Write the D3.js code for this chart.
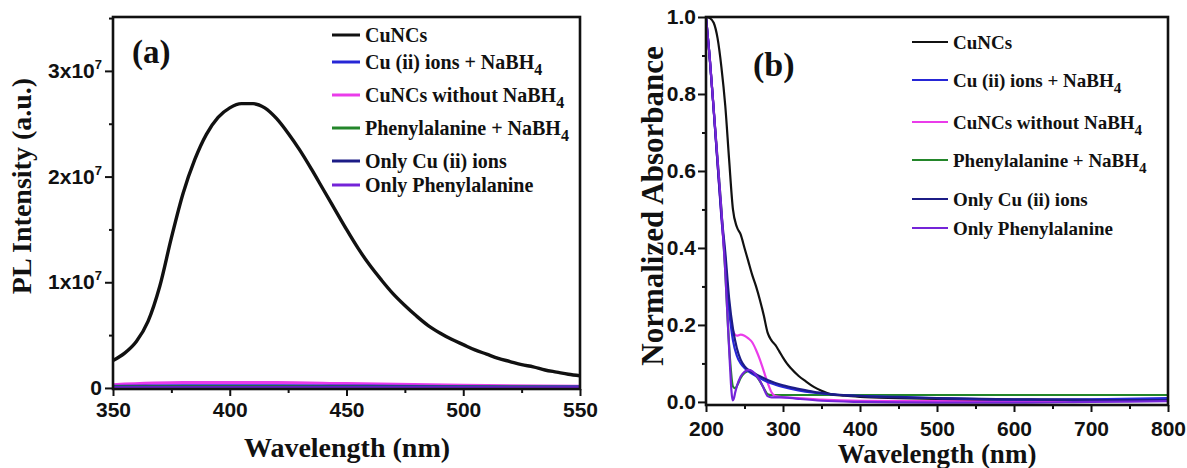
<!DOCTYPE html>
<html>
<head>
<meta charset="utf-8">
<script src="https://cdn.jsdelivr.net/npm/d3@7"></script>
<style>
  html, body { margin: 0; padding: 0; background: #fff; }
  svg { display: block; font-family: "Liberation Serif", "Times New Roman", serif; font-weight: bold; }
</style>
</head>
<body>
<svg id="fig" width="1187" height="468"></svg>
<script>
// ---------- Panel (a): PL emission (intensity in units of 1x10^7) ----------
const plWavelength = [350,355,360,365,370,375,380,385,390,395,400,405,410,415,420,425,430,435,440,445,450,
                      455,460,465,470,475,480,485,490,495,500,505,510,515,520,525,530,535,540,545,550];
const plCuNCs      = [0.26,0.33,0.44,0.63,0.96,1.42,1.84,2.16,2.40,2.56,2.65,2.69,2.69,2.65,2.55,2.41,2.25,2.07,1.88,1.69,1.50,
                      1.32,1.16,1.02,0.89,0.78,0.68,0.59,0.52,0.46,0.41,0.36,0.32,0.28,0.25,0.22,0.20,0.17,0.15,0.13,0.115];
const plWlLow      = [350,380,420,450,500,550];
const plCuNaBH4    = [0.015,0.02,0.02,0.018,0.012,0.01];
const plNoNaBH4    = [0.03,0.05,0.05,0.04,0.025,0.015];
const plPheNaBH4   = [0.01,0.012,0.012,0.01,0.008,0.006];
const plOnlyCu     = [0.005,0.006,0.006,0.005,0.004,0.003];
const plOnlyPhe    = [0.0,0.002,0.002,0.002,0.001,0.001];
const plXTicks     = [350,400,450,500,550];
const plXMinor     = [375,425,475,525];
const plYTicks     = [0,1,2,3];
const plYMinor     = [0.5,1.5,2.5,3.5];

// ---------- Panel (b): normalized UV-vis absorbance ----------
const absWlCuNCs  = [200,205,210,215,220,225,230,235,240,245,250,255,260,265,270,275,280,285,290,295,300,305,310,320,330,340,350,360,380,400,450,500,600,700,800];
const absCuNCs    = [1.0,0.997,0.985,0.945,0.87,0.77,0.63,0.50,0.455,0.435,0.40,0.365,0.33,0.30,0.265,0.225,0.18,0.16,0.148,0.132,0.115,0.10,0.088,0.068,0.053,0.039,0.029,0.021,0.016,0.013,0.010,0.008,0.006,0.006,0.006];
const absWlCuNaBH4 = [200,204,209,215,220,225,230,235,240,245,250,255,260,270,280,290,300,320,340,360,400,450,500,600,700,800];
const absCuNaBH4   = [1.0,0.914,0.785,0.62,0.48,0.37,0.24,0.16,0.12,0.10,0.088,0.08,0.073,0.062,0.052,0.045,0.039,0.030,0.024,0.020,0.016,0.013,0.010,0.006,0.007,0.010];
const absWlNoNaBH4 = [200,205,210,215,220,225,230,235,240,245,250,255,260,265,270,275,280,285,290,300,320,350,400,500,600,700,800];
const absNoNaBH4   = [1.0,0.89,0.76,0.62,0.48,0.36,0.25,0.185,0.172,0.175,0.172,0.165,0.155,0.135,0.11,0.08,0.05,0.025,0.015,0.012,0.010,0.006,0.003,0.002,0.002,0.003,0.004];
const absWlPheNaBH4 = [200,205,210,215,220,225,229,232,235,238,241,245,250,255,260,265,270,275,280,285,290,300,350,400,500,600,700,800];
const absPheNaBH4   = [1.0,0.89,0.76,0.63,0.50,0.34,0.18,0.09,0.04,0.035,0.045,0.062,0.075,0.08,0.078,0.068,0.054,0.036,0.02,0.018,0.018,0.018,0.018,0.018,0.018,0.018,0.018,0.018];
const absWlOnlyCu  = [200,204,209,215,220,225,230,235,240,245,250,255,260,270,280,290,300,320,340,360,400,500,600,700,800];
const absOnlyCu    = [1.0,0.914,0.785,0.62,0.49,0.39,0.27,0.19,0.14,0.11,0.093,0.083,0.077,0.067,0.057,0.049,0.043,0.034,0.026,0.021,0.015,0.010,0.007,0.005,0.005];
const absWlOnlyPhe = [200,205,210,215,220,225,228,231,233,234.5,236,238,240,245,250,255,260,265,270,275,280,285,300,320,350,400,500,600,700,800];
const absOnlyPhe   = [1.0,0.89,0.76,0.63,0.50,0.34,0.22,0.10,0.03,0.004,0.008,0.025,0.04,0.066,0.078,0.083,0.08,0.07,0.055,0.035,0.015,0.012,0.012,0.008,0.003,0.0,-0.002,-0.002,0.0,0.002];
const absXTicks = [200,300,400,500,600,700,800];
const absXMinor = [250,350,450,550,650,750];
const absYTicks = [0,0.2,0.4,0.6,0.8,1.0];
const absYMinor = [0.1,0.3,0.5,0.7,0.9];

const seriesNames  = ["CuNCs", "Cu (ii) ions + NaBH", "CuNCs without NaBH", "Phenylalanine + NaBH", "Only Cu (ii) ions", "Only Phenylalanine"];
const seriesSub    = ["", "4", "4", "4", "", ""];
const seriesColors = ["#111111", "#2626d6", "#ea3cea", "#23862a", "#1c1c86", "#7424d8"];

const svg = d3.select("#fig");

function zip(xs, ys) { return xs.map((x, i) => [x, ys[i]]); }

function drawAxes(g, x, y, o) {
  const [x0, x1] = x.range(), [y0, y1] = y.range();
  // minor ticks
  g.append("g").attr("transform", `translate(0,${y0})`)
    .call(d3.axisBottom(x).tickValues(o.xMinor).tickSize(4).tickSizeOuter(0).tickFormat(""))
    .call(s => s.select(".domain").remove());
  g.append("g").attr("transform", `translate(${x0},0)`)
    .call(d3.axisLeft(y).tickValues(o.yMinor).tickSize(4).tickSizeOuter(0).tickFormat(""))
    .call(s => s.select(".domain").remove());
  // major ticks
  const xa = g.append("g").attr("transform", `translate(0,${y0})`)
    .call(d3.axisBottom(x).tickValues(o.xTicks).tickSize(7).tickSizeOuter(0).tickPadding(o.xPad).tickFormat(d3.format("d")));
  xa.select(".domain").remove();
  xa.selectAll("text").attr("font-size", 21).attr("font-family", null).attr("fill", "#111");
  const ya = g.append("g").attr("transform", `translate(${x0},0)`)
    .call(d3.axisLeft(y).tickValues(o.yTicks).tickSize(8).tickSizeOuter(0).tickPadding(o.yPad).tickFormat(o.yFormat));
  ya.select(".domain").remove();
  ya.selectAll("text").attr("font-size", 21).attr("font-family", null).attr("fill", "#111");
  g.selectAll(".tick line").attr("stroke", "#111").attr("stroke-width", 2);
  // frame
  g.append("rect").attr("x", x0).attr("y", y1).attr("width", x1 - x0).attr("height", y0 - y1)
    .attr("fill", "none").attr("stroke", "#111").attr("stroke-width", 2.6);
  return ya;
}

function drawLegend(g, o) {
  seriesNames.forEach((name, i) => {
    const yy = o.ys[i];
    g.append("line").attr("x1", o.x1).attr("x2", o.x2).attr("y1", yy).attr("y2", yy)
      .attr("stroke", seriesColors[i]).attr("stroke-width", o.sw);
    const t = g.append("text").attr("x", o.x2 + 5).attr("y", yy + 7)
      .attr("font-size", o.fs).attr("fill", "#111").text(name);
    if (seriesSub[i]) t.append("tspan").attr("dy", 6).attr("font-size", o.fs * 0.8).text(seriesSub[i]);
  });
}

// ================= Panel (a) =================
{
  const g = svg.append("g");
  const x = d3.scaleLinear().domain([350, 550]).range([113, 580]);
  const y = d3.scaleLinear().domain([-0.01, 3.51]).range([389, 17]);
  const line = d3.line().x(d => x(d[0])).y(d => y(d[1])).curve(d3.curveMonotoneX);

  const low = [plCuNaBH4, plNoNaBH4, plPheNaBH4, plOnlyCu, plOnlyPhe];
  g.append("clipPath").attr("id", "clipA").append("rect")
    .attr("x", 113).attr("y", 17).attr("width", 467).attr("height", 372);
  [plNoNaBH4, plCuNaBH4, plPheNaBH4, plOnlyCu, plOnlyPhe].forEach((vals) => {
    const idx = low.indexOf(vals) + 1;
    g.append("path").datum(zip(plWlLow, vals)).attr("d", line)
      .attr("fill", "none").attr("stroke", seriesColors[idx]).attr("stroke-width", 3.2)
      .attr("clip-path", "url(#clipA)");
  });
  g.append("path").datum(zip(plWavelength, plCuNCs)).attr("d", line)
    .attr("fill", "none").attr("stroke", seriesColors[0]).attr("stroke-width", 3.4);

  const ya = drawAxes(g, x, y, {
    xTicks: plXTicks, xMinor: plXMinor, yTicks: plYTicks, yMinor: plYMinor,
    xPad: 6, yPad: 3, yFormat: d => d === 0 ? "0" : d + "x10"
  });
  ya.selectAll(".tick text").filter(d => d !== 0)
    .append("tspan").attr("dy", -9).attr("font-size", 13).text("7");

  g.append("text").attr("x", 132).attr("y", 63).attr("font-size", 33).attr("fill", "#111").text("(a)");
  g.append("text").attr("x", 347).attr("y", 457).attr("text-anchor", "middle")
    .attr("font-size", 28).attr("fill", "#111").text("Wavelength (nm)");
  g.append("text").attr("transform", "translate(31,186) rotate(-90)").attr("text-anchor", "middle")
    .attr("font-size", 28).attr("fill", "#111").text("PL Intensity (a.u.)");

  drawLegend(g, { x1: 332, x2: 360, sw: 3, fs: 20, ys: [35, 62, 95, 128, 161, 185] });
}

// ================= Panel (b) =================
{
  const g = svg.append("g");
  const x = d3.scaleLinear().domain([200, 800]).range([706, 1168]);
  const y = d3.scaleLinear().domain([-0.008, 1.0]).range([405, 17]);
  const line = d3.line().x(d => x(d[0])).y(d => y(d[1])).curve(d3.curveMonotoneX);

  g.append("clipPath").attr("id", "clipB").append("rect")
    .attr("x", 706).attr("y", 17).attr("width", 462).attr("height", 388);

  const series = [
    [absWlPheNaBH4, absPheNaBH4, 3],
    [absWlNoNaBH4, absNoNaBH4, 2],
    [absWlCuNCs, absCuNCs, 0],
    [absWlCuNaBH4, absCuNaBH4, 1],
    [absWlOnlyCu, absOnlyCu, 4],
    [absWlOnlyPhe, absOnlyPhe, 5]
  ];
  series.forEach(([xs, ys, ci]) => {
    g.append("path").datum(zip(xs, ys)).attr("d", line)
      .attr("fill", "none").attr("stroke", seriesColors[ci]).attr("stroke-width", 2.2)
      .attr("clip-path", "url(#clipB)");
  });

  drawAxes(g, x, y, {
    xTicks: absXTicks, xMinor: absXMinor, yTicks: absYTicks, yMinor: absYMinor,
    xPad: 9, yPad: 2, yFormat: d3.format(".1f")
  });

  g.append("text").attr("x", 753).attr("y", 76).attr("font-size", 34).attr("fill", "#111").text("(b)");
  g.append("text").attr("x", 937).attr("y", 463).attr("text-anchor", "middle")
    .attr("font-size", 27).attr("fill", "#111").text("Wavelength (nm)");
  g.append("text").attr("transform", "translate(663,206) rotate(-90)").attr("text-anchor", "middle")
    .attr("font-size", 31).attr("fill", "#111").text("Normalized Absorbance");

  drawLegend(g, { x1: 912, x2: 948, sw: 2, fs: 19, ys: [42, 80, 122, 160, 199, 228] });
}
</script>
</body>
</html>
